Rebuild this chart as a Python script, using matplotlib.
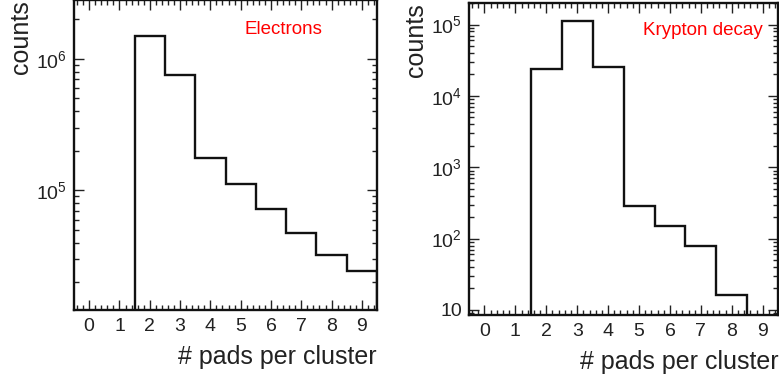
import matplotlib
matplotlib.use("Agg")
import matplotlib.pyplot as plt
from matplotlib.ticker import LogLocator, MultipleLocator, FuncFormatter, NullFormatter
import numpy as np

plt.rcParams["font.family"] = ["Liberation Sans", "DejaVu Sans"]
plt.rcParams["mathtext.fontset"] = "custom"
plt.rcParams["mathtext.rm"] = "Liberation Sans"

# number of pads per cluster (bin centres 0..9)
pads = np.arange(10)
bin_edges = np.append(pads - 0.5, pads[-1] + 0.5)

# counts
electrons = [0, 0, 1.48e6, 7.47e5, 1.75e5, 1.12e5, 7.2e4, 4.77e4, 3.23e4, 2.43e4]
krypton = [0, 0, 2.4e4, 1.11e5, 2.5e4, 290, 149, 80, 16.3, 0]

txt_col = "#222222"


def sci(v, pos):
    if v == 10:
        return "10"
    return r"$\mathdefault{10^{%d}}$" % int(round(np.log10(v)))


def style_axes(ax, ylim, label, lx, ly):
    ax.set_yscale("log")
    ax.set_xlim(-0.5, 9.5)
    ax.set_ylim(*ylim)
    ax.xaxis.set_major_locator(MultipleLocator(1))
    ax.xaxis.set_minor_locator(MultipleLocator(0.2))
    ax.yaxis.set_major_locator(LogLocator(base=10, numticks=10))
    ax.yaxis.set_minor_locator(LogLocator(base=10, subs=np.arange(2, 10), numticks=20))
    ax.yaxis.set_major_formatter(FuncFormatter(sci))
    ax.yaxis.set_minor_formatter(NullFormatter())
    ax.tick_params(which="both", direction="in", top=True, right=True,
                   colors=txt_col, labelsize=14, width=1.0)
    ax.tick_params(which="major", length=7, pad=5)
    ax.tick_params(axis="x", which="major", pad=6)
    ax.tick_params(which="minor", length=3.5)
    for s in ax.spines.values():
        s.set_linewidth(1.7)
        s.set_color("#111111")
    ax.set_xlabel("# pads per cluster", loc="right", fontsize=18, color=txt_col, labelpad=7)
    ax.set_ylabel("counts", loc="top", fontsize=18, color=txt_col, labelpad=2)
    ax.text(lx, ly, label, transform=ax.transAxes, ha="right", va="center",
            color="#ff0000", fontsize=13.5)


fig = plt.figure(figsize=(7.79, 3.80), dpi=100)
ax1 = fig.add_axes([0.095, 0.184, 0.389, 0.816])
ax2 = fig.add_axes([0.602, 0.171, 0.397, 0.821])

ax1.stairs(electrons, bin_edges, color="#111111", linewidth=1.7)
style_axes(ax1, (1.23e4, 2.8e6), "Electrons", 0.818, 0.906)

ax2.stairs(krypton, bin_edges, color="#111111", linewidth=1.7)
style_axes(ax2, (8.5, 2.0e5), "Krypton decay", 0.951, 0.913)

fig.savefig("out.png", dpi=100)
